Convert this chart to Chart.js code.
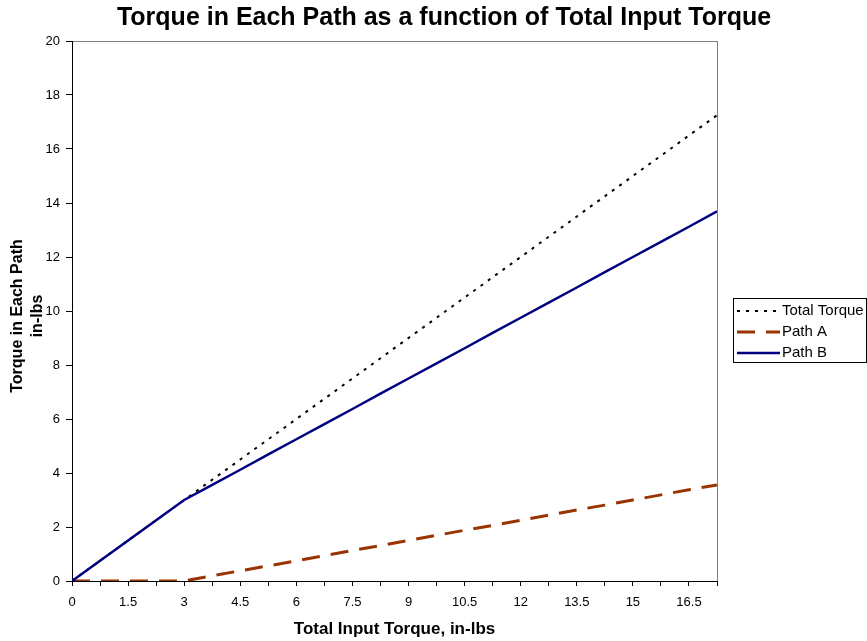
<!DOCTYPE html>
<html>
<head>
<meta charset="utf-8">
<script src="https://cdn.jsdelivr.net/npm/chart.js@4.4.1/dist/chart.umd.min.js"></script>
<style>
  html, body { margin: 0; padding: 0; background: #fff; }
  #wrap { width: 867px; height: 641px; }
</style>
</head>
<body>
<div id="wrap"><canvas id="chart" width="867" height="641"></canvas></div>
<script>
// Data
const inputTorque = [0, 0.75, 1.5, 2.25, 3, 3.75, 4.5, 5.25, 6, 6.75, 7.5, 8.25,
    9, 9.75, 10.5, 11.25, 12, 12.75, 13.5, 14.25, 15, 15.75, 16.5, 17.25];
const totalTorque = [0, 0.75, 1.5, 2.25, 3, 3.75, 4.5, 5.25, 6, 6.75, 7.5, 8.25,
    9, 9.75, 10.5, 11.25, 12, 12.75, 13.5, 14.25, 15, 15.75, 16.5, 17.25];
const pathA = [0, 0, 0, 0, 0, 0.19, 0.38, 0.56, 0.75, 0.94, 1.13, 1.31,
    1.5, 1.69, 1.88, 2.06, 2.25, 2.44, 2.63, 2.81, 3.0, 3.19, 3.38, 3.56];
const pathB = [0, 0.75, 1.5, 2.25, 3.0, 3.56, 4.12, 4.69, 5.25, 5.81, 6.37, 6.94,
    7.5, 8.06, 8.62, 9.19, 9.75, 10.31, 10.87, 11.44, 12.0, 12.56, 13.12, 13.69];
const seriesNames = ['Total Torque', 'Path A', 'Path B'];

const FONT = '"Liberation Sans", Arial, sans-serif';

function points(ys) {
    return inputTorque.map((x, i) => ({ x: x, y: ys[i] }));
}

// Titles, frame and legend drawn by hand
const chartText = {
    id: 'chartText',
    beforeDraw(chart) {
        const ctx = chart.ctx;
        const a = chart.chartArea;
        ctx.save();
        ctx.fillStyle = '#fff';
        ctx.fillRect(0, 0, chart.width, chart.height);
        ctx.strokeStyle = '#808080';
        ctx.lineWidth = 1;
        ctx.strokeRect(a.left + 0.5, a.top + 0.5, a.right - a.left, a.bottom - a.top);
        ctx.restore();
    },
    afterDraw(chart) {
        const ctx = chart.ctx;
        const a = chart.chartArea;
        ctx.save();
        ctx.fillStyle = '#000';
        ctx.textAlign = 'center';
        ctx.textBaseline = 'middle';

        ctx.font = 'bold 25px ' + FONT;
        ctx.fillText('Torque in Each Path as a function of Total Input Torque', 444, 18);

        ctx.font = 'bold 17px ' + FONT;
        ctx.fillText('Total Input Torque, in-lbs', (a.left + a.right) / 2, 629);

        ctx.font = 'bold 16px ' + FONT;
        ctx.save();
        ctx.translate(18, 316);
        ctx.rotate(-Math.PI / 2);
        ctx.fillText('Torque in Each Path', 0, 0);
        ctx.fillText('in-lbs', 0, 20);
        ctx.restore();

        // legend
        ctx.strokeStyle = '#000';
        ctx.lineWidth = 1;
        ctx.strokeRect(733.5, 298.5, 133, 64);
        ctx.font = '15px ' + FONT;
        ctx.textAlign = 'left';
        const rows = [311, 332, 353];
        chart.data.datasets.forEach((ds, i) => {
            ctx.save();
            ctx.strokeStyle = ds.borderColor;
            ctx.lineWidth = ds.borderWidth;
            ctx.setLineDash(ds.borderDash || []);
            ctx.beginPath();
            ctx.moveTo(737, rows[i]);
            ctx.lineTo(780, rows[i]);
            ctx.stroke();
            ctx.restore();
            ctx.fillText(ds.label, 782, rows[i]);
        });
        ctx.restore();
    }
};

new Chart(document.getElementById('chart'), {
    type: 'line',
    data: {
        datasets: [
            {
                label: seriesNames[0],
                data: points(totalTorque),
                borderColor: '#000000',
                borderWidth: 2,
                borderDash: [3, 6],
                pointRadius: 0,
                order: 3
            },
            {
                label: seriesNames[1],
                data: points(pathA),
                borderColor: '#993300',
                borderWidth: 3,
                borderDash: [18, 11],
                pointRadius: 0,
                order: 2
            },
            {
                label: seriesNames[2],
                data: points(pathB),
                borderColor: '#000080',
                borderWidth: 2.5,
                pointRadius: 0,
                order: 1
            }
        ]
    },
    options: {
        responsive: false,
        animation: false,
        layout: { padding: { top: 41, right: 150, left: 0, bottom: 0 } },
        plugins: {
            legend: { display: false },
            title: { display: false },
            tooltip: { enabled: false }
        },
        scales: {
            x: {
                type: 'linear',
                min: 0,
                max: 17.25,
                afterFit: (scale) => { scale.height = 60; },
                grid: { drawOnChartArea: false, drawTicks: true, tickLength: 5, color: '#000' },
                border: { display: true, color: '#000', width: 1 },
                ticks: {
                    stepSize: 0.75,
                    autoSkip: false,
                    maxRotation: 0,
                    padding: 9,
                    color: '#000',
                    font: { family: FONT, size: 13 },
                    callback: (v) => {
                        const k = v / 1.5;
                        return Math.abs(k - Math.round(k)) < 1e-6 ? String(Math.round(k * 15) / 10) : '';
                    }
                }
            },
            y: {
                min: 0,
                max: 20,
                afterFit: (scale) => { scale.width = 72; },
                grid: { drawOnChartArea: false, drawTicks: true, tickLength: 6, color: '#000' },
                border: { display: true, color: '#000', width: 1 },
                ticks: {
                    stepSize: 2,
                    padding: 6,
                    color: '#000',
                    font: { family: FONT, size: 13 }
                }
            }
        }
    },
    plugins: [chartText]
});
</script>
</body>
</html>
